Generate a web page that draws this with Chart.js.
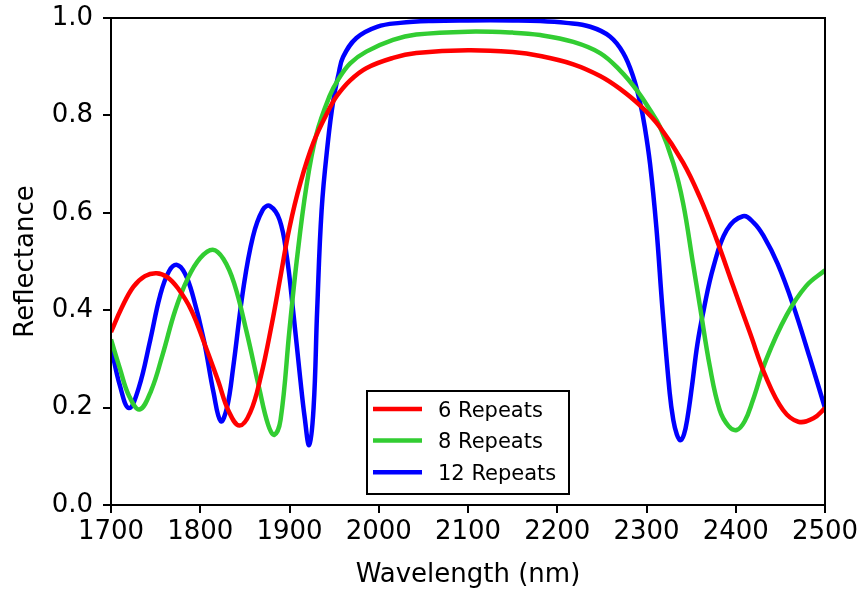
<!DOCTYPE html>
<html>
<head>
<meta charset="utf-8">
<script src="https://cdn.jsdelivr.net/npm/chart.js@4/dist/chart.umd.min.js"></script>
<style>
  html, body { margin: 0; padding: 0; background: #fff; }
  #wrap { width: 862px; height: 589px; position: relative; }
</style>
</head>
<body>
<div id="wrap"><canvas id="c" width="862" height="589"></canvas></div>
<script>
// Reflectance spectra of a Bragg stack for different numbers of layer repeats
const seriesLabels = ['6 Repeats', '8 Repeats', '12 Repeats'];

const nm6 = [1700, 1712, 1725, 1738, 1751, 1763, 1775, 1790, 1805, 1820, 1832, 1844, 1856, 1868, 1880, 1890, 1900, 1912, 1927, 1945, 1953, 1968, 1986, 2016, 2042, 2100, 2150, 2181, 2218, 2248, 2270, 2293, 2315, 2341, 2360, 2378, 2397, 2416, 2434, 2453, 2470, 2487, 2500];
const refl6 = [0.355, 0.405, 0.448, 0.470, 0.476, 0.468, 0.445, 0.400, 0.330, 0.255, 0.192, 0.163, 0.190, 0.265, 0.370, 0.470, 0.570, 0.660, 0.745, 0.815, 0.840, 0.872, 0.897, 0.918, 0.928, 0.934, 0.930, 0.922, 0.905, 0.881, 0.855, 0.820, 0.776, 0.703, 0.631, 0.548, 0.450, 0.353, 0.262, 0.195, 0.171, 0.178, 0.199];

const nm8 = [1700, 1710, 1720, 1732, 1745, 1758, 1772, 1786, 1800, 1814, 1826, 1838, 1852, 1866, 1876, 1883, 1890, 1900, 1908, 1919, 1930, 1945, 1955, 1968, 1986, 2016, 2042, 2100, 2150, 2181, 2218, 2248, 2270, 2289, 2304, 2315, 2330, 2341, 2352, 2360, 2371, 2382, 2392, 2401, 2410, 2419, 2434, 2457, 2479, 2500];
const refl8 = [0.340, 0.280, 0.225, 0.196, 0.235, 0.310, 0.400, 0.465, 0.507, 0.524, 0.505, 0.455, 0.355, 0.240, 0.165, 0.144, 0.175, 0.360, 0.500, 0.655, 0.760, 0.840, 0.875, 0.907, 0.931, 0.955, 0.966, 0.972, 0.970, 0.965, 0.951, 0.928, 0.893, 0.852, 0.811, 0.777, 0.702, 0.620, 0.497, 0.407, 0.284, 0.195, 0.162, 0.154, 0.172, 0.214, 0.298, 0.390, 0.450, 0.482];

const nm12 = [1700, 1710, 1720, 1731, 1744, 1755, 1765, 1774, 1783, 1792, 1804, 1815, 1823, 1830, 1837, 1848, 1859, 1870, 1878, 1889, 1897, 1904, 1912, 1917, 1922, 1927, 1931, 1936, 1943, 1949, 1955, 1960, 1975, 1998, 2024, 2060, 2100, 2150, 2181, 2210, 2237, 2259, 2274, 2285, 2293, 2298, 2304, 2311, 2318, 2326, 2330, 2334, 2338, 2342, 2346, 2351, 2357, 2364, 2375, 2390, 2408, 2420, 2431, 2447, 2464, 2483, 2500];
const refl12 = [0.325, 0.245, 0.199, 0.240, 0.339, 0.430, 0.480, 0.493, 0.475, 0.428, 0.339, 0.230, 0.172, 0.200, 0.284, 0.441, 0.551, 0.606, 0.614, 0.585, 0.510, 0.400, 0.260, 0.180, 0.123, 0.200, 0.400, 0.606, 0.745, 0.830, 0.885, 0.920, 0.959, 0.982, 0.990, 0.994, 0.995, 0.995, 0.994, 0.990, 0.982, 0.962, 0.928, 0.880, 0.825, 0.777, 0.700, 0.571, 0.400, 0.230, 0.175, 0.145, 0.133, 0.145, 0.180, 0.245, 0.330, 0.400, 0.489, 0.565, 0.593, 0.580, 0.553, 0.495, 0.412, 0.302, 0.199];

const xTicks = [1700, 1800, 1900, 2000, 2100, 2200, 2300, 2400, 2500];
const yTicks = [0.0, 0.2, 0.4, 0.6, 0.8, 1.0];

const colors = ['#ff0000', '#32cd32', '#0000ff'];
const FONT = 'DejaVu Sans';

function pts(xs, ys) { return xs.map((x, i) => ({ x: x, y: ys[i] })); }

const datasets = [[nm6, refl6], [nm8, refl8], [nm12, refl12]].map((s, i) => ({
  label: seriesLabels[i],
  data: pts(s[0], s[1]),
  borderColor: colors[i],
  backgroundColor: colors[i],
  borderWidth: 4.5,
  pointRadius: 0,
  fill: false,
  tension: 0.4,
  borderJoinStyle: 'round'
}));

// frame around the plotting area and the boxed legend
const framePlugin = {
  id: 'frame',
  afterDatasetsDraw(chart) {
    const ctx = chart.ctx, a = chart.chartArea;
    ctx.save();
    ctx.strokeStyle = '#000';
    ctx.lineWidth = 2;
    ctx.strokeRect(a.left, a.top, a.right - a.left, a.bottom - a.top);

    // legend box
    const w = 202, h = 103;
    const cx = (a.left + a.right) / 2;
    const bx = Math.round(cx - w / 2), by = Math.round(a.bottom - 11 - h);
    ctx.fillStyle = '#fff';
    ctx.fillRect(bx, by, w, h);
    ctx.strokeRect(bx, by, w, h);
    ctx.font = '21px "' + FONT + '"';
    ctx.textBaseline = 'alphabetic';
    ctx.textAlign = 'left';
    chart.data.datasets.forEach((ds, i) => {
      const ly = by + 18 + i * 31.6;
      ctx.strokeStyle = ds.borderColor;
      ctx.lineWidth = 4.5;
      ctx.beginPath();
      ctx.moveTo(bx + 6, ly);
      ctx.lineTo(bx + 55, ly);
      ctx.stroke();
      ctx.fillStyle = '#000';
      ctx.fillText(ds.label, bx + 71, ly + 7.5);
    });
    ctx.restore();
  }
};

new Chart(document.getElementById('c'), {
  type: 'line',
  data: { datasets: datasets },
  plugins: [framePlugin],
  options: {
    responsive: false,
    animation: false,
    devicePixelRatio: 1,
    layout: { autoPadding: false, padding: { top: 18, right: 37, left: 0, bottom: 0 } },
    plugins: { legend: { display: false }, tooltip: { enabled: false } },
    scales: {
      x: {
        type: 'linear',
        min: 1700, max: 2500,
        afterFit(s) { s.height = 84; s.paddingLeft = 0; s.paddingRight = 0; },
        afterBuildTicks(s) { s.ticks = xTicks.map(v => ({ value: v })); },
        ticks: { color: '#000', font: { family: FONT, size: 26 }, padding: 4, maxRotation: 0, autoSkip: false,
                 callback: v => String(v) },
        grid: { display: true, drawOnChartArea: false, drawTicks: true, tickLength: 8, color: '#000', lineWidth: 2 },
        border: { display: false },
        title: { display: true, text: 'Wavelength (nm)', color: '#000', font: { family: FONT, size: 26, lineHeight: 1.0 }, padding: { top: 0, bottom: 1 } }
      },
      y: {
        type: 'linear',
        min: 0, max: 1,
        afterFit(s) { s.width = 111; s.paddingTop = 0; s.paddingBottom = 0; },
        afterBuildTicks(s) { s.ticks = yTicks.map(v => ({ value: v })); },
        ticks: { color: '#000', font: { family: FONT, size: 26 }, padding: 10, autoSkip: false,
                 callback: v => Number(v).toFixed(1) },
        grid: { display: true, drawOnChartArea: false, drawTicks: true, tickLength: 8, color: '#000', lineWidth: 2 },
        border: { display: false },
        title: { display: true, text: 'Reflectance', color: '#000', font: { family: FONT, size: 26 }, padding: { top: 11, bottom: 0 } }
      }
    }
  }
});
</script>
</body>
</html>
